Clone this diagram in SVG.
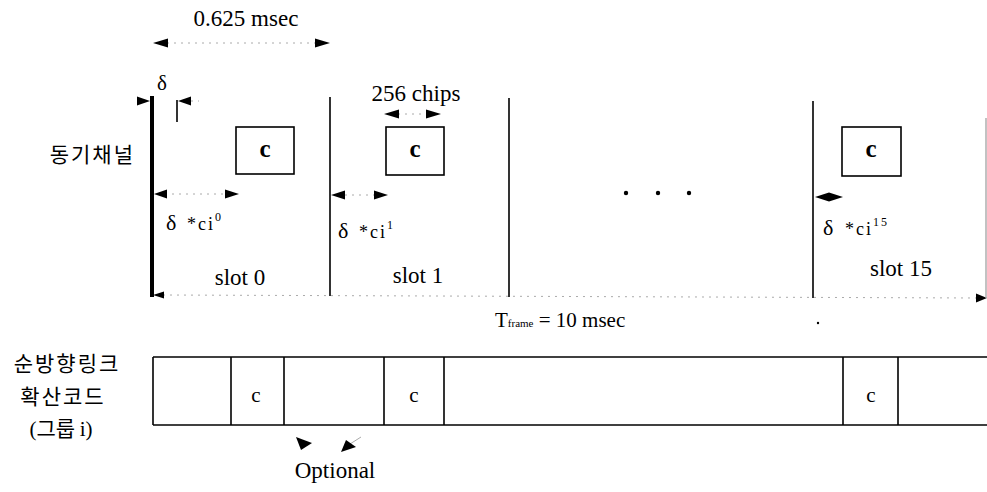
<svg xmlns="http://www.w3.org/2000/svg" width="987" height="492" viewBox="0 0 987 492">
<style>
.t{font-family:"Liberation Serif","Times New Roman",serif;fill:#000}
.k{font-family:"Noto Sans CJK KR","Noto Sans",sans-serif;fill:#000}
.dot{stroke:#aaa;stroke-width:1;stroke-dasharray:2 5;fill:none}
.ln{stroke:#000;stroke-width:1.6;fill:none}
.box{stroke:#000;stroke-width:1.6;fill:#fff}
.ah{fill:#000}
</style>
<rect width="987" height="492" fill="#fff"/>
<g id="labels-left">
<text class="k" x="135" y="162" font-size="21" text-anchor="end" letter-spacing="2">동기채널</text>
<text class="k" x="67" y="371" font-size="21" text-anchor="middle" letter-spacing="2">순방향링크</text>
<text class="k" x="63" y="404" font-size="21" text-anchor="middle" letter-spacing="2">확산코드</text>
<text x="61" y="436" font-size="21" text-anchor="middle"><tspan class="t">(</tspan><tspan class="k">그룹 </tspan><tspan class="t">i)</tspan></text>
</g>
<g id="connectors">
<line class="dot" x1="167" y1="43" x2="315" y2="43"/>
<polygon class="ah" points="153,43 168,38.5 168,47.5"/>
<polygon class="ah" points="330,43 315,38.5 315,47.5"/>
<polygon class="ah" points="150,101 137,96.5 137,105.5"/>
<line class="ln" x1="177" y1="100" x2="177" y2="122" stroke-width="2"/>
<polygon class="ah" points="178,101 191,96.5 191,105.5"/>
<line class="dot" x1="191" y1="101" x2="199" y2="101"/>
<line class="dot" x1="398" y1="114" x2="427" y2="114"/>
<polygon class="ah" points="384,114 399,109.5 399,118.5"/>
<polygon class="ah" points="441,114 426,109.5 426,118.5"/>
<line class="dot" x1="165" y1="194" x2="226" y2="194"/>
<polygon class="ah" points="154,194 167,189.5 167,198.5"/>
<polygon class="ah" points="239,194 225,189.5 225,198.5"/>
<line class="dot" x1="345" y1="195" x2="374" y2="195"/>
<polygon class="ah" points="331,195 345,190.5 345,199.5"/>
<polygon class="ah" points="388,195 374,190.5 374,199.5"/>
<polygon class="ah" points="815,197 829,192.5 829,201.5"/>
<polygon class="ah" points="843,197 829,192.5 829,201.5"/>
<line class="dot" x1="163" y1="295" x2="977" y2="298"/>
<polygon class="ah" points="153,295 164,291.5 164,298.5"/>
<polygon class="ah" points="987,298 976,293.5 976,302.5"/>
<polygon class="ah" points="296,437 301,450 312,443"/>
<line x1="350" y1="444" x2="361" y2="437" stroke="#aaa" stroke-width="1"/>
<polygon class="ah" points="341,452 346,440 356,447"/>
</g>
<g id="sync-channel">
<line x1="152" y1="96" x2="152" y2="297" stroke="#000" stroke-width="4"/>
<line class="ln" x1="330" y1="97" x2="330" y2="296"/>
<line class="ln" x1="509" y1="98" x2="509" y2="297"/>
<line class="ln" x1="813" y1="101" x2="813" y2="298"/>
<line x1="986" y1="118" x2="986" y2="298" stroke="#999" stroke-width="1.2"/>
<circle cx="626" cy="193" r="2.2"/>
<circle cx="658" cy="193" r="2.2"/>
<circle cx="689" cy="193" r="2.2"/>
<circle cx="818" cy="323" r="1.2"/>
</g>
<g id="slot0">
<rect class="box" x="236" y="127" width="58" height="47"/>
<text class="t" x="265" y="157" font-size="25" font-weight="bold" text-anchor="middle">c</text>
<text class="t" x="166" y="230" font-size="22">δ</text>
<text class="t" x="187" y="230" font-size="18" letter-spacing="2">*ci<tspan font-size="12" dy="-9">0</tspan></text>
<text class="t" x="240" y="285" font-size="23" text-anchor="middle">slot 0</text>
</g>
<g id="slot1">
<rect class="box" x="386" y="127" width="58" height="48"/>
<text class="t" x="415" y="157" font-size="25" font-weight="bold" text-anchor="middle">c</text>
<text class="t" x="338" y="238" font-size="22">δ</text>
<text class="t" x="359" y="238" font-size="18" letter-spacing="2">*ci<tspan font-size="12" dy="-9">1</tspan></text>
<text class="t" x="418" y="283" font-size="23" text-anchor="middle">slot 1</text>
</g>
<g id="slot15">
<rect class="box" x="842" y="127" width="59" height="49"/>
<text class="t" x="871" y="157" font-size="25" font-weight="bold" text-anchor="middle">c</text>
<text class="t" x="823" y="235" font-size="22">δ</text>
<text class="t" x="845" y="235" font-size="18" letter-spacing="2">*ci<tspan font-size="12" dy="-9">15</tspan></text>
<text class="t" x="901" y="276" font-size="23" text-anchor="middle">slot 15</text>
</g>
<g id="dimension-labels">
<text class="t" x="246" y="26" font-size="23" text-anchor="middle">0.625 msec</text>
<text class="t" x="157" y="90" font-size="21">δ</text>
<text class="t" x="416" y="101" font-size="23" text-anchor="middle">256 chips</text>
<text class="t" x="495" y="327" font-size="21">T<tspan font-size="11">frame</tspan> = 10 msec</text>
<text class="t" x="335" y="478" font-size="23" text-anchor="middle">Optional</text>
</g>
<g id="spreading-code">
<line class="ln" x1="153" y1="357" x2="987" y2="357" stroke-width="2"/>
<line class="ln" x1="153" y1="425" x2="987" y2="425" stroke-width="2"/>
<line class="ln" x1="153" y1="357" x2="153" y2="425"/>
<line class="ln" x1="231" y1="357" x2="231" y2="425"/>
<line class="ln" x1="284" y1="357" x2="284" y2="425" stroke-width="2"/>
<line class="ln" x1="384" y1="357" x2="384" y2="425" stroke-width="2"/>
<line class="ln" x1="444" y1="357" x2="444" y2="425" stroke-width="2"/>
<line class="ln" x1="843" y1="357" x2="843" y2="425"/>
<line class="ln" x1="898" y1="357" x2="898" y2="425"/>
<text class="t" x="256" y="402" font-size="21" text-anchor="middle">c</text>
<text class="t" x="414" y="402" font-size="21" text-anchor="middle">c</text>
<text class="t" x="871" y="402" font-size="21" text-anchor="middle">c</text>
</g>
</svg>
